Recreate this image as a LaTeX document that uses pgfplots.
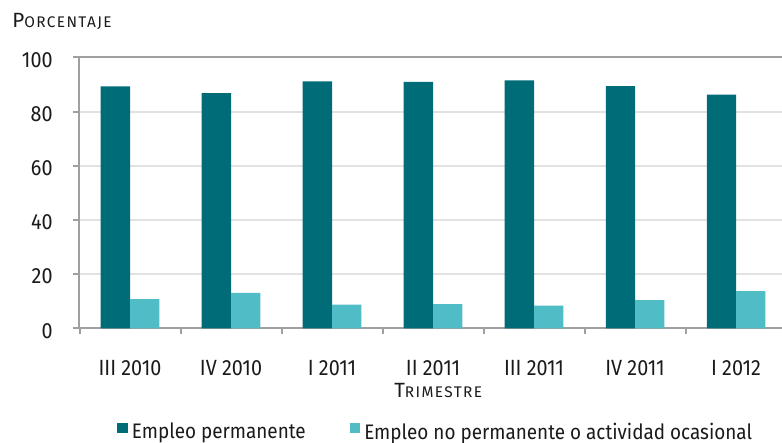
\documentclass[border=0pt]{standalone}
\usepackage{fontspec}
\setmainfont{Fira Sans}[FakeStretch=0.9]
\newfontfamily\scfont{Fira Sans}[LetterSpace=9]
\usepackage{pgfplots}
\pgfplotsset{compat=1.18}
\definecolor{darkteal}{RGB}{0,108,119}
\definecolor{lightteal}{RGB}{80,188,197}
\definecolor{gridc}{RGB}{226,226,226}
\definecolor{axc}{RGB}{160,160,160}
\definecolor{txt}{RGB}{26,26,26}
\newcommand{\fsc}[2]{{\scfont\fontsize{10.3}{12}\selectfont #1}{\scfont\fontsize{7.7}{9}\selectfont #2}}
\begin{document}
\begin{tikzpicture}
\begin{axis}[name=ax, scale only axis, width=351.5pt, height=135.6pt,
  xmin=-0.505, xmax=6.455, ymin=0, ymax=100,
  clip=false,
  axis x line*=bottom, axis y line*=left,
  axis line style={draw=axc, line width=1pt, -},
  xtick={-0.5,0.5,1.5,2.5,3.5,4.5,5.5},
  xticklabels={III 2010,IV 2010,I 2011,II 2011,III 2011,IV 2011,I 2012},
  ytick={0,20,40,60,80,100},
  ymajorgrids, grid style={draw=gridc, line width=1pt},
  tick align=outside, major tick length=3pt,
  tick style={draw=axc, line width=1pt},
  /pgf/number format/assume math mode=true,
  ticklabel style={font=\fontsize{11}{13}\selectfont, text=txt},
  xticklabel style={anchor=north, inner sep=0pt, xshift=25.25pt, yshift=-12.8pt},
  yticklabel style={anchor=east, inner sep=0pt, xshift=-10pt, yshift=-1.2pt},
  xlabel={\fsc{T}{RIMESTRE}},
  xlabel style={at={(rel axis cs:0.511,0)}, anchor=north, inner sep=0pt, yshift=-27.2pt, text=txt},
  legend columns=2,
  legend style={draw=none, fill=none, inner sep=0pt, at={(rel axis cs:0.054,-0.331)}, anchor=north west,
    font=\fontsize{10.5}{12}\selectfont, text=txt,
    /tikz/every even column/.append style={column sep=20pt},
    /tikz/every odd column/.append style={column sep=0pt}},
  legend cell align=left,
  legend image code/.code={\fill[#1, draw=none] (0pt,-0.5pt) rectangle (5.3pt,4.5pt);},
]
\addplot[ybar, bar width=0.29, bar shift=-0.145, fill=darkteal, draw=none] coordinates {
 (0,89.3) (1,86.8) (2,91.1) (3,90.9) (4,91.5) (5,89.4) (6,86.2)};
\addlegendentry{Empleo permanente}
\addplot[ybar, bar width=0.29, bar shift=0.145, fill=lightteal, draw=none] coordinates {
 (0,10.8) (1,13.1) (2,8.8) (3,9.0) (4,8.4) (5,10.5) (6,13.8)};
\addlegendentry{Empleo no permanente o actividad ocasional}
\draw[axc, line width=1pt] (rel axis cs:0,1) -- (rel axis cs:1,1);
\node[anchor=base west, inner sep=0pt, text=txt] at (rel axis cs:0,1) [xshift=-33.5pt, yshift=14.7pt] {\fsc{P}{ORCENTAJE}};
\end{axis}
\pgfresetboundingbox
\path[use as bounding box] ([shift={(-39.5pt,-56.75pt)}]ax.south west) rectangle ([shift={(0pt,28.65pt)}]ax.north east);
\end{tikzpicture}
\end{document}
